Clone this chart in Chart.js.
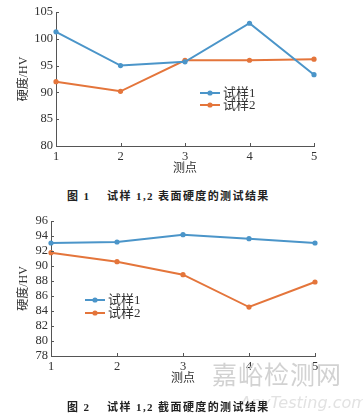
<!DOCTYPE html>
<html>
<head>
<meta charset="utf-8">
<script src="https://cdn.jsdelivr.net/npm/chart.js@4/dist/chart.umd.min.js"></script>
<style>
  body { margin: 0; background: #fff; width: 363px; height: 419px; position: relative; overflow: hidden; }
  .box { position: absolute; left: 0; width: 363px; }
  .caption { position: absolute; left: 67px; font-family: "Liberation Serif", "Noto Sans CJK SC", serif; font-weight: bold; font-size: 11px; letter-spacing: 1.4px; color: #222; white-space: pre; }
  .wm { position: absolute; font-family: "Noto Sans CJK SC", sans-serif; color: #d2d2d2; white-space: pre; }
</style>
</head>
<body>
<div class="box" style="top:0;height:179px"><canvas id="chart1" width="363" height="179"></canvas></div>
<div class="caption" style="top:187px">图 1    试样 1,2 表面硬度的测试结果</div>
<div class="box" style="top:205px;height:184px"><canvas id="chart2" width="363" height="184"></canvas></div>
<div class="wm" style="left:212px;top:355px;font-size:25px;letter-spacing:1px">嘉峪检测网</div>
<div class="wm" style="left:240px;top:393px;font-size:16px;font-style:italic;font-family:'DejaVu Sans',sans-serif;color:#e2e2e2">AnyTesting.com</div>
<div class="caption" style="top:398px">图 2    试样 1,2 截面硬度的测试结果</div>
<script>
// measuring points
const points = ['1', '2', '3', '4', '5'];
const seriesNames = ['试样1', '试样2'];

// fig 1: surface hardness
const surface1 = [101.3, 95.0, 95.7, 102.9, 93.3];
const surface2 = [92.0, 90.2, 96.0, 96.0, 96.2];
const surfaceTicks = [80, 85, 90, 95, 100, 105];

// fig 2: section hardness
const section1 = [93.07, 93.2, 94.18, 93.64, 93.07];
const section2 = [91.78, 90.58, 88.84, 84.53, 87.87];
const sectionTicks = [78, 80, 82, 84, 86, 88, 90, 92, 94, 96];

const blue = '#4b95c9';
const orange = '#e4753b';
const serif = '"Liberation Serif", "Noto Sans CJK SC", serif';

// inward tick marks + legend drawn inside the plot
const innerTicks = {
    id: 'innerTicks',
    afterDraw(chart, args, opts) {
        const c = chart.ctx;
        const area = chart.chartArea;
        const xs = chart.scales.x, ys = chart.scales.y;
        c.save();
        c.strokeStyle = '#555';
        c.lineWidth = 1;
        c.beginPath();
        xs.ticks.forEach((t, i) => {
            const px = Math.round(xs.getPixelForTick(i)) + 0.5;
            c.moveTo(px, area.bottom);
            c.lineTo(px, area.bottom - 3);
        });
        ys.ticks.forEach((t, i) => {
            const py = Math.round(ys.getPixelForTick(i)) + 0.5;
            c.moveTo(area.left, py);
            c.lineTo(area.left + 3, py);
        });
        c.stroke();

        // legend
        chart.data.datasets.forEach((ds, i) => {
            const y = opts.y + i * opts.gap;
            c.strokeStyle = ds.borderColor;
            c.lineWidth = 2;
            c.beginPath();
            c.moveTo(opts.x, y);
            c.lineTo(opts.x + 20, y);
            c.stroke();
            c.fillStyle = ds.borderColor;
            c.beginPath();
            c.arc(opts.x + 10, y, 2.6, 0, Math.PI * 2);
            c.fill();
            c.fillStyle = '#333';
            c.font = '13px ' + serif;
            c.textBaseline = 'middle';
            c.fillText(ds.label, opts.x + 23, y + 1);
        });
        c.restore();
    }
};

function makeChart(id, s1, s2, ticks, pad, yWidth, xHeight, legend) {
    new Chart(document.getElementById(id), {
        type: 'line',
        data: {
            labels: points,
            datasets: [
                { label: seriesNames[0], data: s1, borderColor: blue, backgroundColor: blue, borderWidth: 2, pointRadius: 2.6, pointBorderWidth: 0 },
                { label: seriesNames[1], data: s2, borderColor: orange, backgroundColor: orange, borderWidth: 2, pointRadius: 2.6, pointBorderWidth: 0 }
            ]
        },
        options: {
            responsive: false,
            animation: false,
            layout: { padding: pad },
            plugins: {
                legend: { display: false },
                tooltip: { enabled: false },
                innerTicks: legend
            },
            scales: {
                x: {
                    grid: { drawOnChartArea: false, drawTicks: false },
                    border: { color: '#555', width: 1 },
                    ticks: { color: '#333', padding: 3, font: { family: serif, size: 12.5 } },
                    title: { display: true, text: '测点', color: '#333', padding: 0, font: { family: serif, size: 12 } },
                    afterFit: function(scale) { scale.height = xHeight; }
                },
                y: {
                    min: ticks[0],
                    max: ticks[ticks.length - 1],
                    afterBuildTicks: function(scale) { scale.ticks = ticks.map(v => ({ value: v })); },
                    grid: { drawOnChartArea: false, drawTicks: false },
                    border: { color: '#555', width: 1 },
                    ticks: { color: '#333', padding: 3, autoSkip: false, font: { family: serif, size: 12.5 } },
                    title: { display: true, text: '硬度/HV', color: '#333', padding: 0, font: { family: serif, size: 12 } },
                    afterFit: function(scale) { scale.width = yWidth; }
                }
            }
        },
        plugins: [innerTicks]
    });
}

makeChart('chart1', surface1, surface2, surfaceTicks,
    { top: 12, left: 17, right: 49, bottom: 3 }, 39, 30, { x: 200, y: 93, gap: 12 });
makeChart('chart2', section1, section2, sectionTicks,
    { top: 16, left: 17, right: 48, bottom: 3 }, 34, 30, { x: 85, y: 95, gap: 13 });
</script>
</body>
</html>
